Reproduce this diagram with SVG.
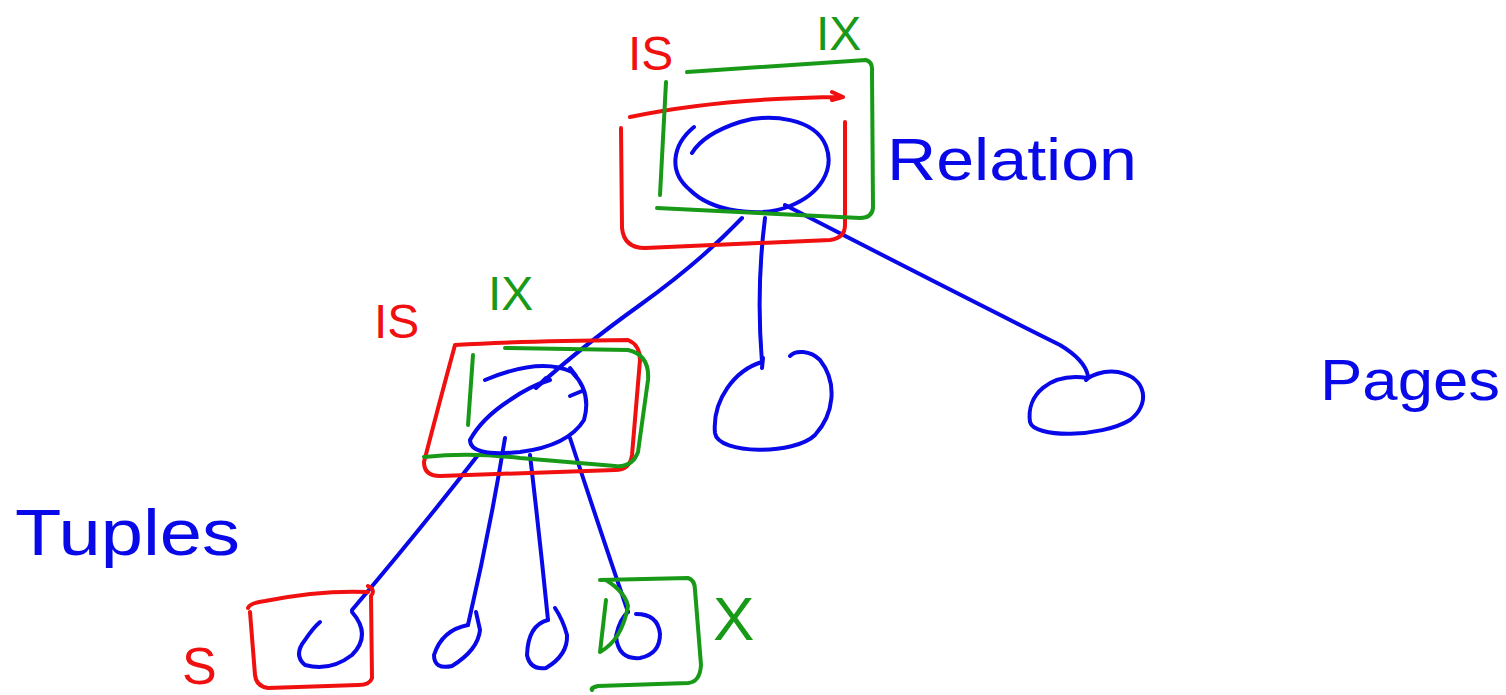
<svg xmlns="http://www.w3.org/2000/svg" width="1506" height="695" viewBox="0 0 1506 695">
<style>
.r{fill:none;stroke:#f01010;stroke-width:4;stroke-linecap:round;stroke-linejoin:round}
.g{fill:none;stroke:#189a18;stroke-width:4;stroke-linecap:round;stroke-linejoin:round}
.b{fill:none;stroke:#0808e8;stroke-width:4;stroke-linecap:round;stroke-linejoin:round}
.t{font-family:"Liberation Sans",Arial,sans-serif}
.tr{fill:#f01010}.tg{fill:#189a18}.tb{fill:#0808e8}
</style>
<rect width="1506" height="695" fill="#ffffff"/>
<g id="connectors">
<path class="b" d="M742,218 Q700,262 640,305 T536,388 M536,388 L546,378"/>
<path class="b" d="M765,218 Q756,290 762,362"/>
<path class="b" d="M785,205 Q950,290 1060,345 Q1085,360 1088,376"/>
<path class="b" d="M478,455 Q420,530 352,610"/>
<path class="b" d="M505,438 Q490,530 468,625"/>
<path class="b" d="M530,455 Q540,540 548,620"/>
<path class="b" d="M570,438 Q600,530 628,612"/>
</g>
<g id="node-relation">
<path class="b" d="M694,127 C672,145 668,172 690,190 C712,212 760,218 790,206 C820,194 835,170 826,146 C815,118 770,113 740,122 C712,131 698,143 692,153"/>
<path class="r" d="M621,128 L622,228 Q624,248 645,248 L830,240 Q845,238 845,225 L845,122"/>
<path class="r" d="M630,117 Q720,98 843,97 M832,92 L843,97 L832,100"/>
<path class="g" d="M687,72 L866,60 Q873,62 872,72 L873,208 Q872,218 860,218 L657,208"/>
<path class="g" d="M666,82 L660,195"/>
<text class="t tr" x="628" y="70" font-size="48">IS</text>
<text class="t tg" x="816" y="50" font-size="48">IX</text>
<text class="t tb" x="887" y="180" font-size="60" textLength="250" lengthAdjust="spacingAndGlyphs">Relation</text>
</g>
<g id="node-page1">
<path class="b" d="M762,368 L763,358 M762,362 C735,370 712,400 715,433 C718,455 795,455 815,435 C834,414 838,383 820,360 C810,350 795,350 790,356"/>
</g>
<g id="node-page2">
<path class="b" d="M1088,378 C1050,372 1026,395 1030,422 C1034,438 1100,438 1130,420 C1150,405 1148,378 1118,372 C1102,370 1090,376 1086,380"/>
<text class="t tb" x="1320" y="400" font-size="58" textLength="180" lengthAdjust="spacingAndGlyphs">Pages</text>
</g>
<g id="node-tuplepage">
<path class="r" d="M455,345 Q520,341 628,340 Q640,345 640,360 L632,455 Q630,470 615,470 L440,476 Q424,476 424,462 Q440,400 455,345"/>
<path class="g" d="M505,348 L628,350 Q650,355 648,380 L638,452 Q632,468 615,466 L520,458 Q470,452 424,457"/>
<path class="g" d="M473,355 L468,425"/>
<path class="b" d="M485,380 Q540,357 572,372 Q592,392 584,420 Q568,446 520,452 Q470,457 470,440 Q482,418 510,400 Q530,386 550,380"/>
<path class="b" d="M570,396 L582,391 M570,368 L576,376"/>
<text class="t tr" x="374" y="338" font-size="48">IS</text>
<text class="t tg" x="488" y="310" font-size="48">IX</text>
</g>
<g id="node-tuple1">
<path class="r" d="M248,608 Q250,603 265,601 Q320,590 368,592 M368,586 Q376,590 371,596 L372,678 Q370,685 358,685 L268,688 Q256,686 255,675 L250,612"/>
<path class="b" d="M352,612 Q372,635 352,655 Q330,672 305,665 Q293,655 305,640 Q313,628 320,622"/>
<text class="t tr" x="182" y="684" font-size="52">S</text>
</g>
<g id="node-tuple2">
<path class="b" d="M468,625 Q442,630 434,655 Q434,670 452,666 Q478,650 480,630 L476,612"/>
</g>
<g id="node-tuple3">
<path class="b" d="M548,620 Q528,625 527,655 Q530,670 546,668 Q568,655 567,635 Q563,620 555,608"/>
</g>
<g id="node-tuple4">
<path class="b" d="M628,612 Q620,618 616,636 Q618,660 640,658 Q660,654 660,634 Q658,614 636,614"/>
<path class="g" d="M600,580 L688,578 Q695,580 695,590 L701,665 Q700,682 688,683 L598,686 Q590,688 592,690"/>
<path class="g" d="M606,580 Q625,592 628,606 Q622,640 600,652 L606,600"/>
<text class="t tg" x="713" y="640" font-size="62">X</text>
</g>
<g id="label-tuples">
<text class="t tb" x="15" y="555" font-size="64" textLength="225" lengthAdjust="spacingAndGlyphs">Tuples</text>
</g>
</svg>
